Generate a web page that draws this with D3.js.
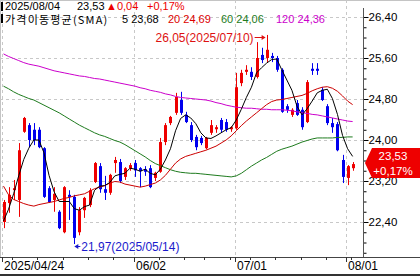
<!DOCTYPE html>
<html>
<head>
<meta charset="utf-8">
<script src="https://cdn.jsdelivr.net/npm/d3@7"></script>
<style>
html, body { margin: 0; padding: 0; background: #fff; }
svg { display: block; font-family: "Liberation Sans", Arial, sans-serif; }
</style>
</head>
<body>
<div id="chart"></div>
<script>
// daily candles, 2025/04/24 .. 2025/08/04
var dates = ["2025/04/24","2025/04/25","2025/04/28","2025/04/29","2025/04/30","2025/05/01","2025/05/02","2025/05/05","2025/05/06","2025/05/07",
  "2025/05/08","2025/05/09","2025/05/12","2025/05/13","2025/05/14","2025/05/15","2025/05/16","2025/05/19","2025/05/20","2025/05/21",
  "2025/05/22","2025/05/23","2025/05/27","2025/05/28","2025/05/29","2025/05/30","2025/06/02","2025/06/03","2025/06/04","2025/06/05",
  "2025/06/06","2025/06/09","2025/06/10","2025/06/11","2025/06/12","2025/06/13","2025/06/16","2025/06/17","2025/06/18","2025/06/20",
  "2025/06/23","2025/06/24","2025/06/25","2025/06/26","2025/06/27","2025/06/30","2025/07/01","2025/07/02","2025/07/03","2025/07/07",
  "2025/07/08","2025/07/09","2025/07/10","2025/07/11","2025/07/14","2025/07/15","2025/07/16","2025/07/17","2025/07/18","2025/07/21",
  "2025/07/22","2025/07/23","2025/07/24","2025/07/25","2025/07/28","2025/07/29","2025/07/30","2025/07/31","2025/08/01","2025/08/04"];

var opens = [22.40,22.77,23.02,22.83,24.16,24.29,24.20,24.20,23.84,23.06,
  22.83,22.60,22.20,22.93,22.89,22.20,22.63,22.73,23.18,23.49,
  23.04,22.97,23.55,23.57,23.28,23.45,23.55,23.45,23.43,23.45,
  23.26,23.38,23.96,24.33,24.53,24.78,24.49,24.29,24.06,24.04,
  23.84,24.14,24.21,24.39,24.35,24.21,24.23,25.11,25.33,25.33,
  25.23,25.66,25.60,25.64,25.60,25.37,24.66,24.49,24.72,24.59,
  24.35,25.39,25.39,24.98,24.66,24.33,24.31,23.61,23.26,23.45];
var highs = [22.83,23.08,23.22,23.94,24.45,24.33,24.33,24.25,23.86,23.10,
  23.08,22.63,23.10,23.02,22.93,22.69,22.89,23.06,23.57,23.55,
  23.30,23.34,23.67,23.63,23.47,23.55,23.61,23.47,23.49,23.51,
  23.38,24.04,24.33,24.47,24.92,24.94,24.55,24.35,24.10,24.08,
  24.06,24.39,24.29,24.43,24.41,24.27,25.31,25.37,25.46,25.42,
  25.91,25.80,26.05,25.70,25.64,25.40,24.70,24.62,24.78,24.64,
  25.17,25.50,25.50,25.03,24.70,24.43,24.35,23.71,23.51,23.57];
var lows = [22.28,22.58,22.83,22.50,24.14,23.86,23.90,23.84,22.87,22.77,
  22.60,22.26,22.18,22.44,21.97,22.14,22.48,22.69,23.16,22.97,
  22.83,22.93,23.36,23.16,23.22,23.40,23.28,23.08,23.30,23.06,
  23.20,23.36,23.90,24.29,24.49,24.49,24.33,23.96,23.80,23.90,
  23.82,24.10,24.14,24.14,24.16,24.16,24.20,25.05,25.27,25.17,
  25.20,25.50,25.52,25.52,25.33,24.53,24.53,24.45,24.47,24.20,
  24.33,25.27,25.27,24.76,24.29,24.14,23.78,23.16,23.12,23.40];
var closes = [22.79,22.93,23.06,23.80,24.43,24.00,24.00,23.86,22.89,22.79,
  22.95,22.28,23.08,22.89,22.09,22.63,22.87,23.02,23.55,23.04,
  22.97,23.32,23.61,23.20,23.45,23.51,23.41,23.39,23.38,23.08,
  23.36,23.96,24.29,24.45,24.84,24.53,24.35,24.00,23.86,23.94,
  24.04,24.29,24.25,24.20,24.20,24.25,25.03,25.31,25.37,25.23,
  25.60,25.56,25.76,25.60,25.37,24.55,24.59,24.59,24.49,24.25,
  25.13,25.35,25.35,24.78,24.33,24.25,23.80,23.28,23.49,23.53];

// moving averages as shown on the chart
var ma5 = [22.42,22.65,22.95,23.30,23.62,23.84,24.00,24.00,23.75,23.31,
  22.99,22.80,22.80,22.80,22.66,22.63,22.70,22.73,23.02,23.10,
  23.11,23.17,23.30,23.33,23.35,23.45,23.43,23.39,23.43,23.35,
  23.32,23.43,23.61,23.83,24.18,24.42,24.49,24.43,24.32,24.14,
  24.04,24.03,24.08,24.14,24.20,24.24,24.39,24.60,24.83,25.03,
  25.31,25.41,25.50,25.57,25.58,25.37,25.17,24.97,24.66,24.49,
  24.61,24.76,24.92,24.97,24.99,24.81,24.50,24.09,23.83,23.68];
var ma20 = [23.10,22.93,22.84,22.80,22.76,22.73,22.71,22.74,22.76,22.78,
  22.80,22.83,22.86,22.88,22.91,22.93,22.95,23.00,23.05,23.08,
  23.11,23.16,23.19,23.18,23.14,23.12,23.10,23.08,23.10,23.13,
  23.16,23.22,23.31,23.43,23.55,23.63,23.68,23.71,23.74,23.77,
  23.80,23.84,23.88,23.94,24.00,24.08,24.18,24.28,24.37,24.45,
  24.53,24.61,24.69,24.75,24.78,24.79,24.81,24.83,24.85,24.87,
  24.91,24.96,25.00,25.03,25.04,25.01,24.95,24.86,24.76,24.69];
var ma60 = [25.05,25.00,24.94,24.89,24.85,24.81,24.78,24.73,24.68,24.63,
  24.58,24.53,24.47,24.41,24.35,24.29,24.24,24.19,24.14,24.10,
  24.07,24.03,23.99,23.96,23.91,23.85,23.79,23.73,23.67,23.60,
  23.54,23.50,23.46,23.42,23.39,23.37,23.36,23.35,23.35,23.34,
  23.33,23.32,23.31,23.30,23.29,23.28,23.30,23.35,23.42,23.49,
  23.55,23.61,23.66,23.72,23.78,23.82,23.85,23.88,23.92,23.96,
  23.99,24.02,24.04,24.04,24.04,24.04,24.05,24.05,24.06,24.06];
var ma120 = [25.68,25.63,25.59,25.55,25.51,25.48,25.46,25.44,25.41,25.38,
  25.35,25.33,25.31,25.29,25.27,25.25,25.24,25.22,25.20,25.19,
  25.17,25.15,25.13,25.11,25.09,25.07,25.05,25.02,25.00,24.97,
  24.95,24.93,24.90,24.88,24.85,24.83,24.82,24.81,24.80,24.79,
  24.78,24.76,24.73,24.71,24.68,24.66,24.64,24.63,24.62,24.62,
  24.61,24.60,24.60,24.59,24.59,24.59,24.58,24.57,24.55,24.53,
  24.52,24.50,24.49,24.47,24.45,24.43,24.41,24.39,24.37,24.36];

var maPeriods = [5, 20, 60, 120];
var priceTicks = [22.40, 23.20, 24.00, 24.80, 25.60, 26.40];

var width = 420, height = 277;
var plotRight = 363, plotBottom = 257;
var upColor = "#ee0000", downColor = "#0000ee";
var maColors = ["#000000", "#cc0000", "#1e7b1e", "#cc00cc"];

var fmt = function(v) { return d3.format(".2f")(v).replace(".", ","); };

var svg = d3.select("#chart").append("svg")
    .attr("width", width).attr("height", height);

var x = d3.scalePoint().domain(dates).range([3.5, 3.5 + 5.06 * (dates.length - 1)]);
var y = d3.scaleLinear().domain([22.40, 26.40]).range([222, 17]);

svg.append("defs").append("clipPath").attr("id", "plot")
  .append("rect").attr("x", 0).attr("y", 0).attr("width", plotRight).attr("height", plotBottom);

// frame
svg.append("line").attr("x1", 0).attr("x2", width).attr("y1", 0.5).attr("y2", 0.5).attr("stroke", "#c4c4c4");
svg.append("line").attr("x1", 0.5).attr("x2", 0.5).attr("y1", 0).attr("y2", plotBottom).attr("stroke", "#c4c4c4");

// which dates get a label: first one, then first day of each month (if room)
var labelIdx = [0];
dates.forEach(function(d, i) {
    if (i > 0 && d.slice(5, 7) !== dates[i - 1].slice(5, 7) && x(d) - x(dates[0]) > 70) labelIdx.push(i);
});
// first trading day of each week
var weekIdx = [];
dates.forEach(function(d, i) {
    if (i === 0) return;
    var a = new Date(d.replace(/\//g, "-")), b = new Date(dates[i - 1].replace(/\//g, "-"));
    if (a.getUTCDay() < b.getUTCDay() || (a - b) > 6 * 864e5) weekIdx.push(i);
});

var grid = svg.append("g").attr("stroke", "#c8c8c8").attr("stroke-dasharray", "3,3");
priceTicks.forEach(function(v) {
    grid.append("line").attr("x1", 0).attr("x2", plotRight)
        .attr("y1", Math.round(y(v)) + 0.5).attr("y2", Math.round(y(v)) + 0.5);
});
labelIdx.forEach(function(i) {
    var gx = Math.round(x(dates[i]) - 1.5) + 0.5;
    grid.append("line").attr("x1", gx).attr("x2", gx).attr("y1", 0).attr("y2", plotBottom);
});

var plot = svg.append("g").attr("clip-path", "url(#plot)");

// candles
var candle = plot.selectAll("g.candle").data(dates).enter().append("g")
    .attr("class", "candle")
    .attr("fill", function(d, i) { return closes[i] >= opens[i] ? upColor : downColor; })
    .attr("stroke", function(d, i) { return closes[i] >= opens[i] ? upColor : downColor; });
candle.append("line")
    .attr("x1", function(d) { return Math.round(x(d)) + 0.5; })
    .attr("x2", function(d) { return Math.round(x(d)) + 0.5; })
    .attr("y1", function(d, i) { return y(highs[i]); })
    .attr("y2", function(d, i) { return y(lows[i]); });
candle.append("rect")
    .attr("stroke", "none")
    .attr("x", function(d) { return Math.round(x(d)) - 1; })
    .attr("width", 3)
    .attr("y", function(d, i) { return y(Math.max(opens[i], closes[i])); })
    .attr("height", function(d, i) { return Math.max(1, Math.abs(y(opens[i]) - y(closes[i]))); });

// moving averages
var maSeries = [ma5, ma20, ma60, ma120];
var line = d3.line().x(function(d, i) { return x(dates[i]); }).y(function(d) { return y(d); });
[3, 2, 1, 0].forEach(function(k) {
    plot.append("path").datum(maSeries[k])
        .attr("fill", "none").attr("stroke", maColors[k]).attr("stroke-width", 1)
        .attr("d", line);
});

// high / low markers
var hi = d3.maxIndex(highs), lo = d3.minIndex(lows);
var hx = x(dates[hi]), lx = x(dates[lo]);
svg.append("text").attr("x", hx - 13).attr("y", y(highs[hi]) + 3)
    .attr("text-anchor", "end").attr("dominant-baseline", "central")
    .attr("font-size", 12).attr("fill", "#dd1111")
    .text(fmt(highs[hi]) + "(" + dates[hi] + ")");
svg.append("line").attr("x1", hx - 12).attr("x2", hx - 2)
    .attr("y1", Math.round(y(highs[hi]) + 2) + 0.5).attr("y2", Math.round(y(highs[hi]) + 2) + 0.5)
    .attr("stroke", "#dd1111");
svg.append("path")
    .attr("d", "M" + (hx - 1) + "," + (Math.round(y(highs[hi]) + 2) + 0.5) + "l-4,-2.5v5z")
    .attr("fill", "#dd1111");
svg.append("text").attr("x", lx + 7).attr("y", y(lows[lo]) + 3)
    .attr("dominant-baseline", "central")
    .attr("font-size", 12).attr("fill", "#1a1acc")
    .text(fmt(lows[lo]) + "(" + dates[lo] + ")");
svg.append("line").attr("x1", lx + 1).attr("x2", lx + 6)
    .attr("y1", Math.round(y(lows[lo]) + 2) + 0.5).attr("y2", Math.round(y(lows[lo]) + 2) + 0.5)
    .attr("stroke", "#1a1acc");
svg.append("path")
    .attr("d", "M" + lx + "," + (Math.round(y(lows[lo]) + 2) + 0.5) + "l4,-2.5v5z")
    .attr("fill", "#1a1acc");

// right price axis
var minor = d3.range(21.8, 26.41, 0.2);
svg.append("g").attr("transform", "translate(" + (plotRight + 0.5) + ",0)")
    .call(d3.axisRight(y).tickValues(minor).tickSize(3).tickFormat(""))
    .call(function(g) { g.select(".domain").remove(); });
var yAxis = svg.append("g").attr("transform", "translate(" + (plotRight + 0.5) + ",0)")
    .call(d3.axisRight(y).tickValues(priceTicks).tickSize(5).tickPadding(0).tickFormat(fmt));
yAxis.select(".domain").remove();
yAxis.selectAll("text").attr("font-size", 11.5).attr("font-family", "Liberation Sans, Arial, sans-serif").attr("fill", "#000");
svg.append("line").attr("x1", plotRight + 0.5).attr("x2", plotRight + 0.5)
    .attr("y1", 8).attr("y2", plotBottom).attr("stroke", "#555");

// bottom date axis
svg.append("line").attr("x1", 0).attr("x2", width).attr("y1", plotBottom + 0.5).attr("y2", plotBottom + 0.5).attr("stroke", "#444");
weekIdx.forEach(function(i) {
    var tx = Math.round(x(dates[i]) - 1.5) + 0.5;
    svg.append("line").attr("x1", tx).attr("x2", tx).attr("y1", plotBottom).attr("y2", plotBottom + 3).attr("stroke", "#333");
});
labelIdx.forEach(function(i, n) {
    var tx = Math.round(x(dates[i]) - 1.5) + 0.5;
    svg.append("line").attr("x1", tx).attr("x2", tx).attr("y1", plotBottom).attr("y2", plotBottom + 5).attr("stroke", "#333");
    svg.append("text").attr("x", tx + 1.5).attr("y", 266).attr("dominant-baseline", "central")
        .attr("font-size", 12).attr("fill", "#000")
        .text(n === 0 ? dates[i] : dates[i].slice(5));
});
svg.append("rect").attr("x", 0).attr("y", 274).attr("width", width).attr("height", 2).attr("fill", "#333");

// last price tag
var last = closes.length - 1;
var chg = closes[last] - closes[last - 1];
var pct = chg / closes[last - 1] * 100;
var ty = y(closes[last]);
svg.append("path")
    .attr("d", "M" + 365 + "," + (ty - 1) + "L372," + (ty - 16) + "H" + width + "V" + (ty + 14) + "H372Z")
    .attr("fill", "#ee0000");
svg.append("text").attr("x", 393).attr("y", ty - 8.5).attr("text-anchor", "middle").attr("dominant-baseline", "central")
    .attr("font-size", 11.5).attr("fill", "#fff").text(fmt(closes[last]));
svg.append("text").attr("x", 393).attr("y", ty + 6.5).attr("text-anchor", "middle").attr("dominant-baseline", "central")
    .attr("font-size", 11.5).attr("fill", "#fff").text((pct >= 0 ? "+" : "") + fmt(pct) + "%");

// legend
var legend = svg.append("g").attr("font-size", 11);
legend.append("rect").attr("x", 1).attr("y", 2).attr("width", 2).attr("height", 9).attr("fill", "#000");
legend.append("rect").attr("x", 1).attr("y", 14).attr("width", 2).attr("height", 9).attr("fill", "#000");
legend.append("text").attr("x", 5).attr("y", 5.5).attr("dominant-baseline", "central").attr("fill", "#000").text(dates[last]);
legend.append("text").attr("x", 77).attr("y", 5.5).attr("dominant-baseline", "central").attr("fill", "#000").text(fmt(closes[last]));
legend.append("text").attr("x", 106).attr("y", 5.5).attr("dominant-baseline", "central").attr("fill", "#ee0000")
    .text((chg >= 0 ? "▲" : "▼") + fmt(Math.abs(chg)));
legend.append("text").attr("x", 147).attr("y", 5.5).attr("dominant-baseline", "central").attr("fill", "#ee0000")
    .text((pct >= 0 ? "+" : "") + fmt(pct) + "%");
legend.append("text").attr("x", 5).attr("y", 18.5).attr("dominant-baseline", "central").attr("fill", "#000")
    .attr("font-family", "'Noto Sans CJK KR', sans-serif").attr("font-size", 11).attr("letter-spacing", 1.2)
    .text("가격이동평균(SMA)");
var legendX = [122, 168, 221, 276];
maPeriods.forEach(function(p, k) {
    legend.append("text").attr("x", legendX[k]).attr("y", 18.5).attr("dominant-baseline", "central")
        .attr("fill", maColors[k] === "#cc0000" ? "#dd0000" : maColors[k])
        .text(p + " " + fmt(maSeries[k][last]));
});
</script>
</body>
</html>
